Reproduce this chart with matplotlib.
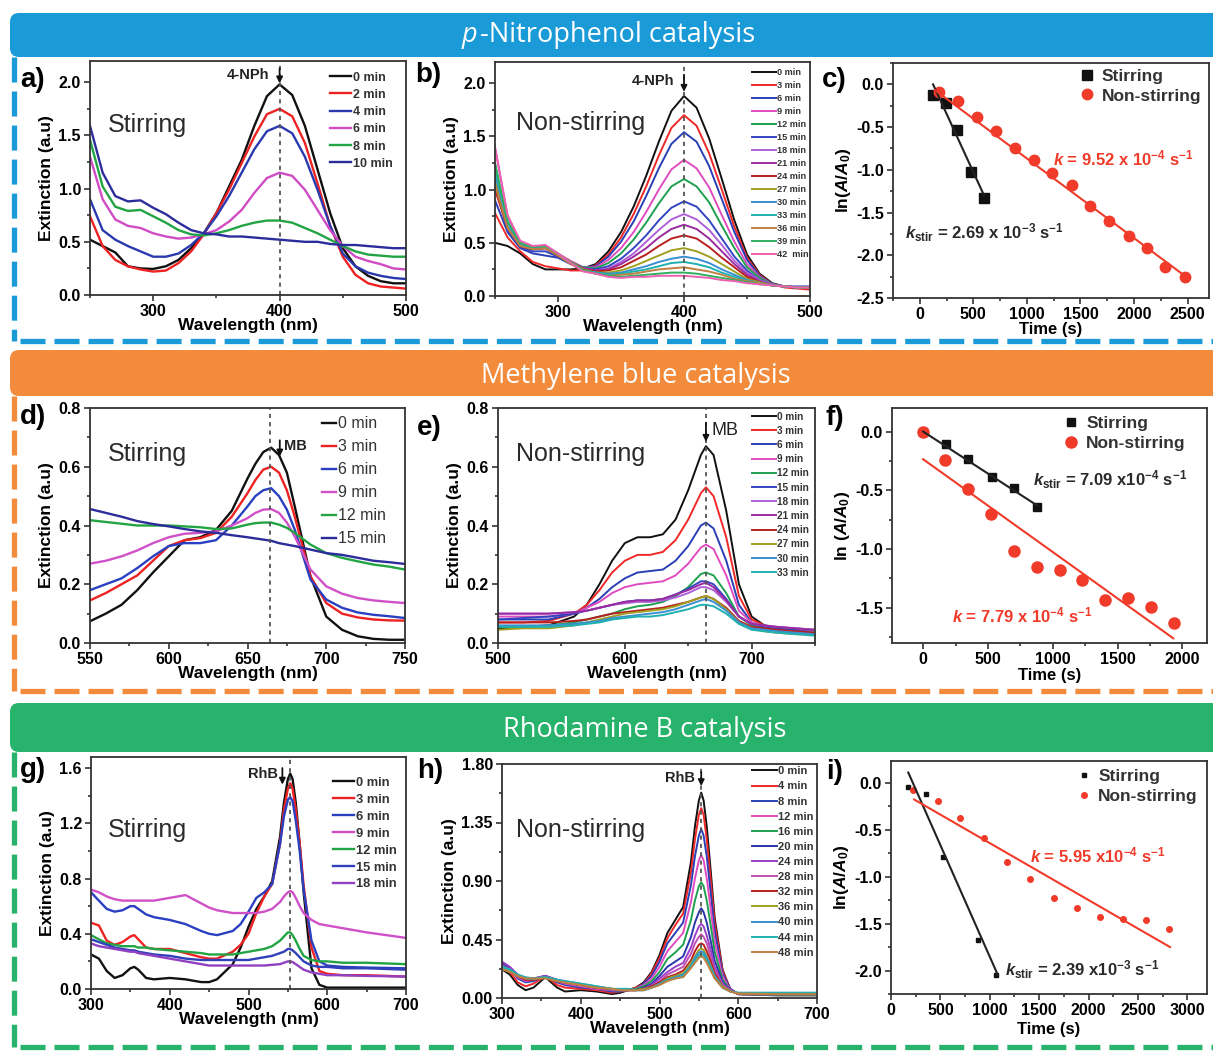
import matplotlib
matplotlib.use('Agg')
import matplotlib.pyplot as plt
from matplotlib.ticker import MultipleLocator, FormatStrFormatter
from matplotlib.patches import FancyBboxPatch
from matplotlib.lines import Line2D
from matplotlib.text import Annotation
from matplotlib.transforms import IdentityTransform

plt.rcParams['font.family'] = ['Liberation Sans', 'DejaVu Sans']
plt.rcParams['axes.unicode_minus'] = False
plt.rcParams['lines.scale_dashes'] = False
plt.rcParams['mathtext.fontset'] = 'custom'
plt.rcParams['mathtext.rm'] = 'Liberation Sans:bold'
plt.rcParams['mathtext.bf'] = 'Liberation Sans:bold'
plt.rcParams['mathtext.it'] = 'Liberation Sans:italic:bold'

# ---------------- data ----------------
# a) 4-NPh, stirring
wl_a = [250, 260, 270, 280, 290, 300, 310, 320, 330, 340, 350, 360, 370,
        380, 390, 400, 410, 420, 430, 440, 450, 460, 470, 480, 490, 500]
lab_a = ['0 min', '2 min', '4 min', '6 min', '8 min', '10 min']
a0 = [0.52, 0.46, 0.40, 0.27, 0.25, 0.245, 0.27, 0.33, 0.44, 0.58, 0.77, 1.02, 1.27,
      1.59, 1.87, 1.98, 1.88, 1.59, 1.18, 0.77, 0.44, 0.27, 0.18, 0.13, 0.11, 0.11]
a2 = [0.74, 0.46, 0.33, 0.27, 0.24, 0.22, 0.23, 0.30, 0.41, 0.57, 0.77, 0.99, 1.24,
      1.49, 1.70, 1.75, 1.68, 1.43, 1.05, 0.65, 0.36, 0.19, 0.11, 0.08, 0.07, 0.06]
a4 = [0.90, 0.61, 0.52, 0.46, 0.41, 0.36, 0.36, 0.39, 0.47, 0.58, 0.74, 0.93, 1.15,
      1.37, 1.54, 1.59, 1.52, 1.30, 0.99, 0.65, 0.39, 0.27, 0.21, 0.18, 0.16, 0.15]
a6 = [1.30, 0.90, 0.71, 0.65, 0.63, 0.58, 0.55, 0.53, 0.54, 0.57, 0.61, 0.69, 0.80,
      0.96, 1.10, 1.15, 1.12, 0.99, 0.80, 0.61, 0.46, 0.36, 0.32, 0.29, 0.25, 0.24]
a8 = [1.46, 1.02, 0.83, 0.79, 0.80, 0.74, 0.68, 0.61, 0.57, 0.56, 0.58, 0.61, 0.65,
      0.68, 0.70, 0.70, 0.68, 0.63, 0.58, 0.52, 0.46, 0.41, 0.38, 0.37, 0.36, 0.36]
a10 = [1.59, 1.15, 0.93, 0.88, 0.89, 0.82, 0.76, 0.68, 0.61, 0.58, 0.57, 0.55, 0.55,
       0.54, 0.53, 0.52, 0.51, 0.50, 0.50, 0.48, 0.47, 0.47, 0.46, 0.45, 0.44, 0.44]
col_a = ['#111111', '#ee2222', '#2a3aae', '#d04cc4', '#22a444', '#2c2c9c']

# b) 4-NPh, non-stirring
wl_b = [250, 260, 270, 280, 290, 300, 310, 320, 330, 340, 350, 360, 370,
        380, 390, 400, 410, 420, 430, 440, 450, 460, 470, 480, 490, 500]
lab_b = ['0 min', '3 min', '6 min', '9 min', '12 min', '15 min', '18 min', '21 min',
         '24 min', '27 min', '30 min', '33 min', '36 min', '39 min', '42  min']
b0 = [0.50, 0.47, 0.40, 0.30, 0.25, 0.25, 0.25, 0.26, 0.30, 0.42, 0.60, 0.84, 1.13,
      1.45, 1.74, 1.88, 1.77, 1.48, 1.10, 0.71, 0.39, 0.21, 0.12, 0.09, 0.08, 0.08]
b3 = [0.78, 0.55, 0.42, 0.32, 0.28, 0.26, 0.24, 0.24, 0.29, 0.39, 0.55, 0.77, 1.03,
      1.32, 1.58, 1.70, 1.60, 1.34, 1.00, 0.65, 0.36, 0.20, 0.11, 0.08, 0.07, 0.06]
b6 = [0.90, 0.60, 0.45, 0.40, 0.38, 0.36, 0.30, 0.27, 0.28, 0.37, 0.51, 0.70, 0.94,
      1.20, 1.43, 1.54, 1.45, 1.22, 0.91, 0.60, 0.34, 0.19, 0.11, 0.09, 0.09, 0.09]
b9 = [1.40, 0.75, 0.50, 0.45, 0.47, 0.40, 0.33, 0.27, 0.27, 0.34, 0.45, 0.60, 0.79,
      1.00, 1.19, 1.28, 1.20, 1.02, 0.76, 0.51, 0.30, 0.18, 0.11, 0.09, 0.08, 0.08]
b12 = [1.25, 0.65, 0.48, 0.44, 0.45, 0.38, 0.32, 0.27, 0.26, 0.31, 0.40, 0.53, 0.69,
       0.87, 1.03, 1.10, 1.03, 0.88, 0.66, 0.45, 0.27, 0.17, 0.11, 0.09, 0.08, 0.08]
b15 = [1.05, 0.62, 0.46, 0.42, 0.42, 0.37, 0.31, 0.26, 0.25, 0.28, 0.35, 0.45, 0.57,
       0.71, 0.83, 0.89, 0.84, 0.71, 0.54, 0.37, 0.24, 0.15, 0.11, 0.09, 0.08, 0.08]
b18 = [1.15, 0.68, 0.48, 0.45, 0.46, 0.39, 0.32, 0.26, 0.24, 0.26, 0.32, 0.40, 0.51,
       0.62, 0.72, 0.77, 0.72, 0.62, 0.48, 0.33, 0.22, 0.15, 0.11, 0.09, 0.08, 0.08]
b21 = [1.10, 0.66, 0.47, 0.44, 0.45, 0.38, 0.32, 0.26, 0.24, 0.25, 0.30, 0.37, 0.45,
       0.55, 0.63, 0.67, 0.63, 0.54, 0.42, 0.30, 0.20, 0.14, 0.10, 0.09, 0.08, 0.08]
b24 = [1.00, 0.64, 0.47, 0.44, 0.45, 0.38, 0.31, 0.25, 0.23, 0.24, 0.27, 0.33, 0.39,
       0.47, 0.54, 0.57, 0.54, 0.46, 0.36, 0.27, 0.18, 0.13, 0.10, 0.09, 0.08, 0.08]
b27 = [1.10, 0.66, 0.48, 0.45, 0.46, 0.39, 0.32, 0.25, 0.22, 0.22, 0.24, 0.28, 0.33,
       0.38, 0.43, 0.45, 0.42, 0.37, 0.30, 0.23, 0.16, 0.13, 0.10, 0.09, 0.08, 0.08]
b30 = [1.15, 0.68, 0.48, 0.45, 0.46, 0.39, 0.31, 0.24, 0.22, 0.21, 0.22, 0.25, 0.28,
       0.32, 0.35, 0.37, 0.35, 0.31, 0.25, 0.20, 0.15, 0.12, 0.10, 0.09, 0.08, 0.08]
b33 = [1.20, 0.70, 0.49, 0.46, 0.46, 0.39, 0.31, 0.24, 0.22, 0.20, 0.21, 0.23, 0.25,
       0.28, 0.31, 0.32, 0.30, 0.27, 0.22, 0.18, 0.14, 0.12, 0.10, 0.09, 0.08, 0.08]
b36 = [1.05, 0.64, 0.47, 0.44, 0.45, 0.38, 0.30, 0.24, 0.21, 0.19, 0.20, 0.21, 0.23,
       0.25, 0.26, 0.27, 0.25, 0.23, 0.20, 0.16, 0.14, 0.12, 0.10, 0.09, 0.08, 0.08]
b39 = [1.25, 0.70, 0.50, 0.46, 0.47, 0.40, 0.31, 0.24, 0.21, 0.19, 0.18, 0.19, 0.20,
       0.21, 0.22, 0.22, 0.21, 0.19, 0.17, 0.15, 0.13, 0.11, 0.10, 0.09, 0.08, 0.08]
b42 = [1.40, 0.76, 0.52, 0.47, 0.48, 0.40, 0.31, 0.23, 0.21, 0.18, 0.17, 0.18, 0.18,
       0.19, 0.19, 0.19, 0.18, 0.17, 0.15, 0.14, 0.12, 0.11, 0.10, 0.09, 0.08, 0.08]
col_b = ['#111111', '#f02828', '#2a3fb5', '#e04cc0', '#1fa050', '#3345c0', '#b060d8',
         '#9a2aa0', '#b82020', '#a0a020', '#3a8fd0', '#20b0b0', '#c08040', '#2fb060',
         '#f060b0']

# c) kinetics 4-NPh
t_c_stir = [124, 242, 351, 475, 596]
y_c_stir = [-0.125, -0.22, -0.535, -1.03, -1.33]
t_c_non = [180, 357, 534, 708, 891, 1065, 1236, 1419, 1593, 1770, 1950, 2121, 2292, 2475]
y_c_non = [-0.085, -0.195, -0.38, -0.545, -0.74, -0.89, -1.04, -1.18, -1.42, -1.60,
           -1.77, -1.92, -2.14, -2.25]
fit_c_stir_t = [124, 600]
fit_c_stir_y = [0.0, -1.30]
fit_c_non_t = [140, 2484]
fit_c_non_y = [-0.066, -2.25]

# d) MB, stirring
wl_d = [550, 560, 570, 580, 590, 600, 610, 620, 630, 640, 650, 655, 660, 665,
        670, 675, 680, 690, 700, 710, 720, 730, 740, 750]
lab_d = ['0 min', '3 min', '6 min', '9 min', '12 min', '15 min']
d0 = [0.074, 0.10, 0.13, 0.18, 0.24, 0.295, 0.35, 0.36, 0.385, 0.45, 0.56, 0.61, 0.65,
      0.665, 0.64, 0.58, 0.465, 0.227, 0.09, 0.045, 0.023, 0.014, 0.011, 0.011]
d3 = [0.145, 0.17, 0.20, 0.23, 0.28, 0.33, 0.35, 0.357, 0.375, 0.43, 0.51, 0.555, 0.59,
      0.60, 0.58, 0.52, 0.43, 0.227, 0.136, 0.10, 0.087, 0.08, 0.077, 0.076]
d6 = [0.18, 0.20, 0.22, 0.255, 0.295, 0.33, 0.34, 0.34, 0.35, 0.40, 0.465, 0.50, 0.52,
      0.527, 0.50, 0.454, 0.386, 0.216, 0.148, 0.12, 0.104, 0.096, 0.091, 0.085]
d9 = [0.27, 0.28, 0.295, 0.315, 0.34, 0.36, 0.372, 0.375, 0.38, 0.40, 0.425, 0.443,
      0.454, 0.456, 0.443, 0.41, 0.363, 0.25, 0.193, 0.168, 0.153, 0.145, 0.14, 0.136]
d12 = [0.418, 0.412, 0.406, 0.40, 0.40, 0.40, 0.397, 0.394, 0.388, 0.39, 0.403, 0.408,
       0.41, 0.41, 0.403, 0.392, 0.375, 0.335, 0.306, 0.29, 0.278, 0.267, 0.26, 0.25]
d15 = [0.456, 0.443, 0.43, 0.415, 0.405, 0.397, 0.388, 0.38, 0.375, 0.367, 0.36, 0.356,
       0.352, 0.348, 0.34, 0.335, 0.33, 0.318, 0.306, 0.30, 0.29, 0.28, 0.275, 0.269]
col_d = ['#111111', '#ee2222', '#2a40c0', '#d050c8', '#22a444', '#2c2c9c']

# e) MB, non-stirring
wl_e = [500, 520, 540, 560, 570, 580, 590, 600, 610, 620, 630, 640, 650, 660,
        664, 670, 680, 690, 700, 710, 720, 735, 750]
lab_e = ['0 min', '3 min', '6 min', '9 min', '12 min', '15 min', '18 min', '21 min',
         '24 min', '27 min', '30 min', '33 min']
e0 = [0.05, 0.055, 0.06, 0.09, 0.13, 0.20, 0.28, 0.34, 0.36, 0.36, 0.37, 0.42, 0.52,
      0.64, 0.67, 0.64, 0.45, 0.20, 0.09, 0.06, 0.05, 0.045, 0.04]
e3 = [0.07, 0.07, 0.075, 0.10, 0.13, 0.18, 0.24, 0.28, 0.30, 0.30, 0.31, 0.35, 0.42,
      0.51, 0.53, 0.50, 0.36, 0.16, 0.08, 0.06, 0.05, 0.045, 0.04]
e6 = [0.08, 0.08, 0.08, 0.10, 0.12, 0.15, 0.19, 0.22, 0.24, 0.245, 0.25, 0.28, 0.33,
      0.40, 0.41, 0.39, 0.28, 0.13, 0.07, 0.055, 0.05, 0.045, 0.04]
e9 = [0.09, 0.09, 0.09, 0.10, 0.12, 0.14, 0.17, 0.19, 0.20, 0.205, 0.21, 0.23, 0.27,
      0.325, 0.335, 0.32, 0.23, 0.11, 0.07, 0.055, 0.05, 0.045, 0.04]
e12 = [0.055, 0.055, 0.06, 0.07, 0.08, 0.09, 0.10, 0.115, 0.125, 0.13, 0.14, 0.16,
       0.19, 0.235, 0.24, 0.23, 0.17, 0.09, 0.06, 0.05, 0.045, 0.04, 0.035]
e15 = [0.08, 0.085, 0.09, 0.10, 0.11, 0.12, 0.13, 0.14, 0.145, 0.145, 0.15, 0.165,
       0.185, 0.21, 0.21, 0.20, 0.15, 0.09, 0.065, 0.055, 0.05, 0.045, 0.045]
e18 = [0.10, 0.10, 0.10, 0.105, 0.11, 0.12, 0.13, 0.135, 0.14, 0.14, 0.145, 0.155,
       0.17, 0.19, 0.19, 0.18, 0.14, 0.09, 0.065, 0.06, 0.055, 0.05, 0.045]
e21 = [0.10, 0.10, 0.10, 0.105, 0.11, 0.12, 0.13, 0.14, 0.145, 0.145, 0.15, 0.165,
       0.18, 0.20, 0.205, 0.19, 0.145, 0.09, 0.065, 0.06, 0.055, 0.05, 0.045]
e24 = [0.07, 0.07, 0.07, 0.075, 0.08, 0.09, 0.10, 0.105, 0.11, 0.115, 0.12, 0.13,
       0.14, 0.155, 0.16, 0.15, 0.12, 0.075, 0.055, 0.05, 0.045, 0.04, 0.035]
e27 = [0.045, 0.05, 0.05, 0.06, 0.07, 0.08, 0.09, 0.10, 0.105, 0.11, 0.115, 0.125,
       0.14, 0.155, 0.16, 0.15, 0.115, 0.07, 0.05, 0.04, 0.035, 0.03, 0.03]
e30 = [0.06, 0.06, 0.06, 0.065, 0.07, 0.075, 0.085, 0.09, 0.095, 0.10, 0.105, 0.115,
       0.13, 0.145, 0.15, 0.14, 0.11, 0.07, 0.05, 0.045, 0.04, 0.035, 0.03]
e33 = [0.055, 0.055, 0.055, 0.06, 0.065, 0.07, 0.08, 0.085, 0.09, 0.09, 0.095, 0.105,
       0.115, 0.13, 0.13, 0.125, 0.10, 0.065, 0.045, 0.04, 0.035, 0.03, 0.025]
col_e = ['#111111', '#f02828', '#2a3fb5', '#e04cc0', '#1fa050', '#3345c0', '#b060d8',
         '#9a2aa0', '#b82020', '#a0a020', '#3a8fd0', '#20b0b0']

# f) kinetics MB
t_f_stir = [0, 175, 350, 530, 705, 880]
y_f_stir = [0.0, -0.105, -0.23, -0.385, -0.48, -0.64]
t_f_non = [0, 168, 348, 524, 704, 877, 1053, 1228, 1401, 1581, 1755, 1935]
y_f_non = [0.0, -0.24, -0.49, -0.70, -1.02, -1.15, -1.18, -1.26, -1.43, -1.42, -1.49, -1.63]
fit_f_stir_t = [0, 880]
fit_f_stir_y = [0.0, -0.63]
fit_f_non_t = [0, 1930]
fit_f_non_y = [-0.236, -1.76]

# g) RhB, stirring
wl_g = [300, 310, 320, 330, 340, 350, 355, 360, 370, 380, 400, 420, 440, 450, 460,
        480, 490, 500, 510, 520, 530, 540, 545, 550, 553, 556, 560, 565, 570, 580,
        590, 600, 620, 650, 700]
lab_g = ['0 min', '3 min', '6 min', '9 min', '12 min', '15 min', '18 min']
g0 = [0.25, 0.22, 0.13, 0.08, 0.10, 0.15, 0.16, 0.14, 0.08, 0.07, 0.08, 0.07, 0.05,
      0.05, 0.07, 0.18, 0.30, 0.45, 0.58, 0.67, 0.78, 1.10, 1.35, 1.52, 1.56, 1.52,
      1.35, 1.05, 0.70, 0.15, 0.03, 0.01, 0.01, 0.01, 0.01]
g3 = [0.48, 0.46, 0.35, 0.32, 0.34, 0.38, 0.39, 0.36, 0.30, 0.29, 0.29, 0.26, 0.23,
      0.22, 0.22, 0.27, 0.32, 0.40, 0.55, 0.67, 0.76, 1.05, 1.30, 1.45, 1.49, 1.45,
      1.30, 1.05, 0.75, 0.30, 0.13, 0.11, 0.10, 0.10, 0.09]
g6 = [0.70, 0.64, 0.58, 0.56, 0.57, 0.60, 0.60, 0.58, 0.54, 0.52, 0.50, 0.47, 0.42,
      0.40, 0.39, 0.42, 0.47, 0.56, 0.66, 0.70, 0.76, 1.05, 1.25, 1.37, 1.39, 1.36,
      1.22, 1.00, 0.72, 0.35, 0.20, 0.17, 0.16, 0.155, 0.15]
g9 = [0.72, 0.70, 0.67, 0.65, 0.64, 0.64, 0.64, 0.64, 0.64, 0.64, 0.66, 0.68, 0.62,
      0.59, 0.57, 0.55, 0.55, 0.55, 0.55, 0.56, 0.58, 0.63, 0.67, 0.70, 0.71, 0.70,
      0.66, 0.60, 0.55, 0.50, 0.47, 0.46, 0.44, 0.41, 0.37]
g12 = [0.39, 0.36, 0.33, 0.32, 0.31, 0.31, 0.31, 0.30, 0.30, 0.29, 0.28, 0.27, 0.26,
       0.25, 0.25, 0.25, 0.26, 0.27, 0.28, 0.29, 0.31, 0.35, 0.38, 0.41, 0.41, 0.39,
       0.35, 0.29, 0.24, 0.21, 0.20, 0.20, 0.19, 0.19, 0.18]
g15 = [0.36, 0.34, 0.32, 0.30, 0.29, 0.28, 0.28, 0.27, 0.26, 0.25, 0.24, 0.22, 0.21,
       0.21, 0.21, 0.21, 0.21, 0.21, 0.22, 0.23, 0.24, 0.26, 0.27, 0.29, 0.29, 0.28,
       0.26, 0.23, 0.20, 0.17, 0.16, 0.16, 0.15, 0.15, 0.14]
g18 = [0.33, 0.31, 0.30, 0.29, 0.28, 0.27, 0.27, 0.26, 0.25, 0.24, 0.22, 0.20, 0.18,
       0.17, 0.17, 0.17, 0.17, 0.17, 0.17, 0.17, 0.175, 0.18, 0.19, 0.20, 0.20, 0.195,
       0.18, 0.16, 0.14, 0.12, 0.11, 0.10, 0.10, 0.095, 0.09]
col_g = ['#111111', '#ee2222', '#2a40c0', '#d050c8', '#22a444', '#3040b8', '#9040c0']

# h) RhB, non-stirring
wl_h = [300, 310, 320, 330, 340, 355, 370, 380, 400, 420, 440, 450, 460, 470, 480,
        490, 500, 510, 520, 530, 540, 545, 550, 553, 556, 560, 565, 570, 580, 590,
        600, 650, 700]
lab_h = ['0 min', '4 min', '8 min', '12 min', '16 min', '20 min', '24 min', '28 min',
         '32 min', '36 min', '40 min', '44 min', '48 min']
h0 = [0.22, 0.18, 0.10, 0.06, 0.08, 0.16, 0.08, 0.05, 0.06, 0.05, 0.03, 0.04, 0.06,
      0.08, 0.12, 0.20, 0.33, 0.50, 0.60, 0.70, 1.05, 1.32, 1.52, 1.58, 1.52, 1.32,
      0.98, 0.62, 0.22, 0.06, 0.03, 0.02, 0.02]
h4 = [0.24, 0.20, 0.12, 0.09, 0.11, 0.17, 0.10, 0.08, 0.07, 0.06, 0.04, 0.05, 0.06,
      0.08, 0.11, 0.19, 0.31, 0.46, 0.56, 0.65, 0.97, 1.22, 1.41, 1.46, 1.41, 1.22,
      0.91, 0.58, 0.21, 0.07, 0.03, 0.025, 0.025]
h8 = [0.27, 0.23, 0.15, 0.12, 0.13, 0.17, 0.12, 0.10, 0.08, 0.07, 0.05, 0.05, 0.06,
      0.07, 0.11, 0.17, 0.28, 0.42, 0.50, 0.58, 0.87, 1.09, 1.25, 1.30, 1.25, 1.09,
      0.81, 0.52, 0.19, 0.07, 0.03, 0.025, 0.025]
h12 = [0.26, 0.22, 0.16, 0.13, 0.14, 0.17, 0.13, 0.11, 0.09, 0.07, 0.06, 0.06, 0.06,
       0.07, 0.10, 0.15, 0.24, 0.36, 0.43, 0.50, 0.74, 0.92, 1.06, 1.10, 1.06, 0.92,
       0.69, 0.44, 0.17, 0.06, 0.03, 0.025, 0.025]
h16 = [0.25, 0.22, 0.17, 0.14, 0.14, 0.16, 0.13, 0.12, 0.10, 0.08, 0.06, 0.06, 0.06,
       0.07, 0.09, 0.13, 0.20, 0.30, 0.35, 0.41, 0.60, 0.75, 0.86, 0.89, 0.86, 0.75,
       0.56, 0.36, 0.14, 0.06, 0.03, 0.025, 0.025]
h20 = [0.27, 0.23, 0.17, 0.14, 0.15, 0.17, 0.14, 0.12, 0.10, 0.08, 0.06, 0.06, 0.06,
       0.06, 0.08, 0.11, 0.17, 0.24, 0.28, 0.32, 0.47, 0.58, 0.66, 0.69, 0.66, 0.58,
       0.44, 0.29, 0.12, 0.06, 0.03, 0.03, 0.03]
h24 = [0.28, 0.24, 0.18, 0.15, 0.15, 0.17, 0.14, 0.12, 0.10, 0.08, 0.06, 0.06, 0.06,
       0.06, 0.07, 0.10, 0.15, 0.20, 0.24, 0.27, 0.39, 0.48, 0.55, 0.57, 0.55, 0.48,
       0.37, 0.24, 0.11, 0.06, 0.03, 0.03, 0.03]
h28 = [0.25, 0.22, 0.17, 0.14, 0.14, 0.16, 0.13, 0.12, 0.10, 0.08, 0.06, 0.06, 0.06,
       0.06, 0.07, 0.09, 0.13, 0.18, 0.21, 0.24, 0.34, 0.42, 0.47, 0.49, 0.47, 0.42,
       0.32, 0.21, 0.10, 0.06, 0.03, 0.03, 0.03]
h32 = [0.24, 0.21, 0.17, 0.14, 0.14, 0.16, 0.13, 0.12, 0.10, 0.08, 0.07, 0.06, 0.06,
       0.06, 0.07, 0.09, 0.12, 0.16, 0.18, 0.21, 0.29, 0.36, 0.41, 0.42, 0.41, 0.36,
       0.28, 0.19, 0.09, 0.05, 0.035, 0.03, 0.03]
h36 = [0.23, 0.21, 0.17, 0.15, 0.15, 0.16, 0.14, 0.12, 0.10, 0.08, 0.07, 0.06, 0.06,
       0.06, 0.07, 0.08, 0.11, 0.15, 0.17, 0.19, 0.27, 0.32, 0.37, 0.38, 0.37, 0.32,
       0.25, 0.17, 0.09, 0.05, 0.035, 0.03, 0.03]
h40 = [0.24, 0.22, 0.18, 0.15, 0.15, 0.16, 0.14, 0.13, 0.11, 0.09, 0.07, 0.07, 0.07,
       0.06, 0.06, 0.08, 0.11, 0.14, 0.16, 0.18, 0.25, 0.31, 0.35, 0.36, 0.35, 0.31,
       0.24, 0.17, 0.08, 0.05, 0.04, 0.04, 0.04]
h44 = [0.24, 0.22, 0.18, 0.16, 0.15, 0.16, 0.14, 0.13, 0.11, 0.09, 0.07, 0.07, 0.07,
       0.06, 0.06, 0.08, 0.10, 0.14, 0.15, 0.17, 0.24, 0.29, 0.33, 0.34, 0.33, 0.29,
       0.23, 0.16, 0.08, 0.05, 0.04, 0.04, 0.04]
h48 = [0.22, 0.20, 0.17, 0.15, 0.15, 0.15, 0.13, 0.12, 0.10, 0.08, 0.07, 0.06, 0.06,
       0.06, 0.06, 0.08, 0.10, 0.13, 0.15, 0.16, 0.23, 0.27, 0.31, 0.32, 0.31, 0.27,
       0.21, 0.15, 0.08, 0.05, 0.035, 0.03, 0.03]
col_h = ['#111111', '#f02828', '#2a3fb5', '#e04cc0', '#1fa050', '#2a35a8', '#9a40c8',
         '#c050b0', '#b82020', '#a0a020', '#3a8fd0', '#20b0b0', '#c08040']

# i) kinetics RhB
t_i_stir = [175, 353, 528, 881, 1066]
y_i_stir = [-0.05, -0.12, -0.79, -1.67, -2.05]
t_i_non = [225, 471, 703, 938, 1174, 1409, 1648, 1880, 2116, 2351, 2587, 2815]
y_i_non = [-0.08, -0.20, -0.38, -0.59, -0.84, -1.03, -1.23, -1.33, -1.43, -1.45, -1.46, -1.56]
fit_i_stir_t = [175, 1083]
fit_i_stir_y = [0.107, -2.05]
fit_i_non_t = [235, 2825]
fit_i_non_y = [-0.18, -1.75]

# ---------------- figure ----------------
W, H = 1213, 1051
fig = plt.figure(figsize=(W / 100, H / 100), dpi=100)
ident = IdentityTransform()

BLUE = '#1a9ad6'
ORANGE = '#f28c3c'
GREEN = '#27b36c'
RED = '#f03a2a'


def add_ax(x0, y0, x1, y1):
    return fig.add_axes([x0 / W, 1 - y1 / H, (x1 - x0) / W, (y1 - y0) / H])


def ftext(px, py, s, **kw):
    return fig.text(px / W, 1 - py / H, s, **kw)


def style(ax, xmaj, xmin, ymaj, ymin, yfmt='%.1f', xfmt='%d'):
    ax.xaxis.set_major_locator(MultipleLocator(xmaj))
    ax.xaxis.set_minor_locator(MultipleLocator(xmin))
    ax.yaxis.set_major_locator(MultipleLocator(ymaj))
    ax.yaxis.set_minor_locator(MultipleLocator(ymin))
    ax.yaxis.set_major_formatter(FormatStrFormatter(yfmt))
    ax.xaxis.set_major_formatter(FormatStrFormatter(xfmt))
    ax.tick_params(which='both', direction='out', width=1.2, color='#333333',
                   top=False, right=False)
    ax.tick_params(which='major', length=4.5, pad=2, labelsize=11.5)
    ax.tick_params(which='minor', length=2.5)
    for lab in ax.get_xticklabels() + ax.get_yticklabels():
        lab.set_fontweight('bold')
    for sp in ax.spines.values():
        sp.set_linewidth(1.3)
        sp.set_color('#333333')


def spectra(ax, wl, curves, labels, colors, lw):
    for ys, lab, c in zip(curves, labels, colors):
        ax.plot(wl, ys, color=c, lw=lw, label=lab)


def wl_labels(ax):
    ax.set_xlabel('Wavelength (nm)', fontsize=12.5, fontweight='bold', labelpad=-1)
    ax.set_ylabel('Extinction (a.u)', fontsize=12.5, fontweight='bold', labelpad=3)


def spec_legend(ax, x, y, size, spacing, hl, weight='bold'):
    ax.legend(loc='upper left', bbox_to_anchor=(x, y), frameon=False,
              prop={'size': size, 'weight': weight}, labelspacing=spacing,
              handlelength=hl, handletextpad=0.15, borderpad=0, borderaxespad=0,
              labelcolor='#333333')


def kin_legend(ax, x, y):
    ax.legend(loc='upper left', bbox_to_anchor=(x, y), frameon=False,
              prop={'size': 12.5, 'weight': 'bold'}, labelspacing=0.25,
              handlelength=0.7, handletextpad=0.5, borderpad=0, borderaxespad=0,
              labelcolor='#333333')


def time_labels(ax, ylab, pad):
    ax.set_xlabel('Time (s)', fontsize=12, fontweight='bold', labelpad=pad)
    ax.set_ylabel(ylab, fontsize=12.5, fontweight='bold', labelpad=2)


# banners and dashed frames
for (y0, y1, yb, col) in [(13, 57, 341, BLUE), (350, 396, 691, ORANGE),
                          (703, 752, 1047, GREEN)]:
    fig.patches.append(FancyBboxPatch((10, H - y1), 1240, y1 - y0,
                                      boxstyle='round,pad=0,rounding_size=9',
                                      transform=ident, facecolor=col,
                                      edgecolor='none', zorder=0))
    fig.add_artist(Line2D([14, 14], [H - y1, H - yb], transform=ident, color=col,
                          lw=3.8, dashes=(18, 6.5), zorder=1))
    fig.add_artist(Line2D([20, W], [H - yb, H - yb], transform=ident, color=col,
                          lw=3.8, dashes=(18, 6.5), zorder=1))

p_txt = ftext(462, 35, 'p', fontfamily='Open Sans', style='italic', fontsize=19.5,
              color='white', ha='left', va='center')
fig.add_artist(Annotation('-Nitrophenol catalysis', xy=(1, 0.5), xycoords=p_txt,
                          xytext=(1.5, 0), textcoords='offset points',
                          fontfamily='Open Sans', fontsize=19.5, color='white',
                          ha='left', va='center'))
ftext(636, 376, 'Methylene blue catalysis', fontfamily='Open Sans', fontsize=19.5,
      color='white', ha='center', va='center')
ftext(645, 730, 'Rhodamine B catalysis', fontfamily='Open Sans', fontsize=19.5,
      color='white', ha='center', va='center')

# panel labels
for px, py, s in [(20, 80, 'a)'), (415, 75, 'b)'), (822, 80, 'c)'),
                  (20, 417, 'd)'), (417, 428, 'e)'), (825, 418, 'f)'),
                  (20, 770, 'g)'), (417, 771, 'h)'), (826, 772, 'i)')]:
    ftext(px, py, s, fontsize=20, fontweight='bold', ha='left', va='center')

for px, py, s in [(108, 125, 'Stirring'), (516, 123, 'Non-stirring'),
                  (108, 454, 'Stirring'), (516, 454, 'Non-stirring'),
                  (108, 830, 'Stirring'), (516, 830, 'Non-stirring')]:
    ftext(px, py, s, fontsize=18, color='#2a2a2a', ha='left', va='center')

arrow = dict(arrowstyle='-|>', color='#111111', lw=1.3, mutation_scale=9,
             shrinkA=0, shrinkB=0)
ktxt = dict(fontsize=12, fontweight='bold', ha='left', va='center')

# ---- a ----
ax = add_ax(90, 61, 406, 295)
spectra(ax, wl_a, [a0, a2, a4, a6, a8, a10], lab_a, col_a, 1.7)
ax.set_xlim(250, 500)
ax.set_ylim(0, 2.2)
ax.axvline(400, color='#555555', lw=1.3, dashes=(3, 3))
ax.annotate('', xy=(400, 1.99), xytext=(400, 2.13), arrowprops=arrow)
ax.text(392, 2.07, '4-NPh', fontsize=10.5, fontweight='bold', ha='right', va='center',
        color='#222222')
style(ax, 100, 50, 0.5, 0.25)
wl_labels(ax)
spec_legend(ax, 0.76, 0.955, 9, 0.42, 1.7)

# ---- b ----
ax = add_ax(495, 62, 810, 296)
spectra(ax, wl_b, [b0, b3, b6, b9, b12, b15, b18, b21, b24, b27, b30, b33, b36, b39, b42],
        lab_b, col_b, 1.4)
ax.set_xlim(250, 500)
ax.set_ylim(0, 2.2)
ax.axvline(400, color='#555555', lw=1.3, dashes=(3, 3))
ax.annotate('', xy=(400, 1.92), xytext=(400, 2.08), arrowprops=arrow)
ax.text(392, 2.02, '4-NPh', fontsize=10.5, fontweight='bold', ha='right', va='center',
        color='#222222')
style(ax, 100, 50, 0.5, 0.25)
wl_labels(ax)
spec_legend(ax, 0.815, 0.975, 6.6, 0.44, 2.6)

# ---- c ----
ax = add_ax(893, 63, 1209, 298)
ax.plot(t_c_stir, y_c_stir, 's', color='#111111', ms=6.5, label='Stirring', ls='none')
ax.plot(t_c_non, y_c_non, 'o', color=RED, ms=7.5, label='Non-stirring', ls='none')
ax.plot(fit_c_stir_t, fit_c_stir_y, color='#222222', lw=1.5)
ax.plot(fit_c_non_t, fit_c_non_y, color=RED, lw=1.5)
ax.set_xlim(-250, 2700)
ax.set_ylim(-2.5, 0.25)
style(ax, 500, 250, 0.5, 0.25)
time_labels(ax, r'ln($A$/$A_{\mathrm{0}}$)', 0)
kin_legend(ax, 0.595, 0.975)
ftext(1053, 158, r'$k$ = 9.52 x 10$^{-4}$ s$^{-1}$', color=RED, **ktxt)
ftext(905, 233, r'$k_{\mathrm{stir}}$ = 2.69 x 10$^{-3}$ s$^{-1}$', color='#2a2a2a',
      **ktxt)

# ---- d ----
ax = add_ax(90, 408, 405, 643)
spectra(ax, wl_d, [d0, d3, d6, d9, d12, d15], lab_d, col_d, 1.7)
ax.set_xlim(550, 750)
ax.set_ylim(0, 0.8)
ax.axvline(664, color='#555555', lw=1.3, dashes=(3, 3))
ax.annotate('', xy=(670.5, 0.635), xytext=(670.5, 0.69), arrowprops=arrow)
ax.text(673, 0.67, 'MB', fontsize=10.5, fontweight='bold', ha='left', va='center',
        color='#222222')
style(ax, 50, 25, 0.2, 0.1)
wl_labels(ax)
spec_legend(ax, 0.735, 0.965, 11.5, 0.5, 0.9, weight='normal')

# ---- e ----
ax = add_ax(498, 408, 815, 643)
spectra(ax, wl_e, [e0, e3, e6, e9, e12, e15, e18, e21, e24, e27, e30, e33],
        lab_e, col_e, 1.4)
ax.set_xlim(500, 750)
ax.set_ylim(0, 0.8)
ax.axvline(664, color='#555555', lw=1.3, dashes=(3, 3))
ax.annotate('', xy=(664, 0.685), xytext=(664, 0.75), arrowprops=arrow)
ax.text(668, 0.725, 'MB', fontsize=13, ha='left', va='center', color='#222222')
style(ax, 100, 50, 0.2, 0.1)
wl_labels(ax)
spec_legend(ax, 0.80, 0.985, 7.2, 0.42, 2.4)

# ---- f ----
ax = add_ax(892, 408, 1207, 643)
ax.plot(t_f_stir, y_f_stir, 's', color='#111111', ms=6, label='Stirring', ls='none')
ax.plot(t_f_non, y_f_non, 'o', color=RED, ms=8, label='Non-stirring', ls='none')
ax.plot(fit_f_stir_t, fit_f_stir_y, color='#222222', lw=1.5)
ax.plot(fit_f_non_t, fit_f_non_y, color=RED, lw=1.5)
ax.set_xlim(-240, 2190)
ax.set_ylim(-1.8, 0.2)
style(ax, 500, 250, 0.5, 0.25)
time_labels(ax, r'ln ($A$/$A_{\mathrm{0}}$)', 1)
kin_legend(ax, 0.55, 0.965)
ftext(1033, 480, r'$k_{\mathrm{stir}}$ = 7.09 x10$^{-4}$ s$^{-1}$', color='#2a2a2a',
      **ktxt)
ftext(952, 615, r'$k$ = 7.79 x 10$^{-4}$ s$^{-1}$', color=RED, **ktxt)

# ---- g ----
ax = add_ax(91, 757, 406, 989)
spectra(ax, wl_g, [g0, g3, g6, g9, g12, g15, g18], lab_g, col_g, 1.7)
ax.set_xlim(300, 700)
ax.set_ylim(0, 1.68)
ax.axvline(553, color='#555555', lw=1.3, dashes=(3, 3))
ax.annotate('', xy=(543, 1.48), xytext=(543, 1.6), arrowprops=arrow)
ax.text(537, 1.555, 'RhB', fontsize=10.5, fontweight='bold', ha='right', va='center',
        color='#222222')
style(ax, 100, 50, 0.4, 0.2)
wl_labels(ax)
spec_legend(ax, 0.768, 0.915, 9.3, 0.38, 1.6)

# ---- h ----
ax = add_ax(502, 764, 817, 998)
spectra(ax, wl_h, [h0, h4, h8, h12, h16, h20, h24, h28, h32, h36, h40, h44, h48],
        lab_h, col_h, 1.4)
ax.set_xlim(300, 700)
ax.set_ylim(0, 1.8)
ax.axvline(553, color='#555555', lw=1.3, dashes=(3, 3))
ax.annotate('', xy=(553, 1.63), xytext=(553, 1.74), arrowprops=arrow)
ax.text(545, 1.69, 'RhB', fontsize=10.5, fontweight='bold', ha='right', va='center',
        color='#222222')
style(ax, 100, 50, 0.45, 0.225, yfmt='%.2f')
wl_labels(ax)
spec_legend(ax, 0.794, 0.99, 8, 0.46, 2.2)

# ---- i ----
ax = add_ax(891, 761, 1207, 994)
ax.plot(t_i_stir, y_i_stir, 's', color='#111111', ms=3.5, label='Stirring', ls='none')
ax.plot(t_i_non, y_i_non, 'o', color=RED, ms=4, label='Non-stirring', ls='none')
ax.plot(fit_i_stir_t, fit_i_stir_y, color='#222222', lw=1.5)
ax.plot(fit_i_non_t, fit_i_non_y, color=RED, lw=1.5)
ax.set_xlim(0, 3200)
ax.set_ylim(-2.25, 0.23)
style(ax, 500, 250, 0.5, 0.25)
time_labels(ax, r'ln($A$/$A_{\mathrm{0}}$)', 3)
kin_legend(ax, 0.59, 0.965)
ftext(1030, 855, r'$k$ = 5.95 x10$^{-4}$ s$^{-1}$', color=RED, **ktxt)
ftext(1005, 970, r'$k_{\mathrm{stir}}$ = 2.39 x10$^{-3}$ s$^{-1}$', color='#2a2a2a',
      **ktxt)

fig.savefig('out.png', dpi=100)
